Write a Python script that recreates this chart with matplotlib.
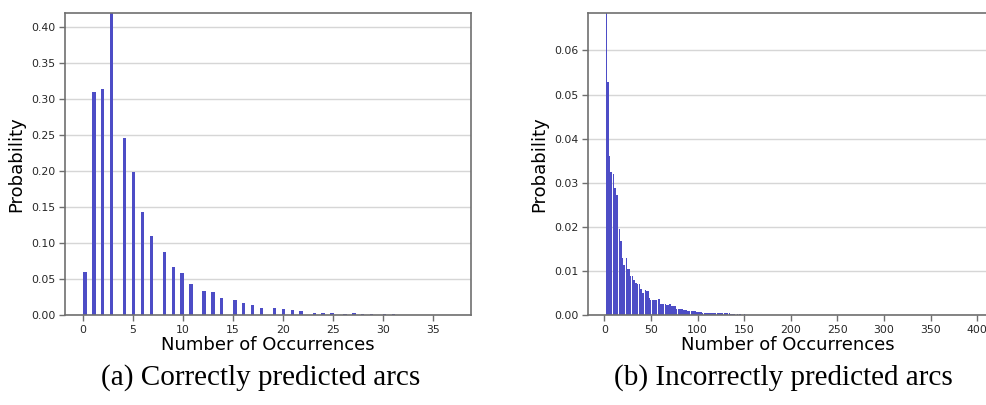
import numpy as np
import matplotlib
matplotlib.use("Agg")
import matplotlib.pyplot as plt
from matplotlib.ticker import MultipleLocator, FormatStrFormatter

# ---- data: correctly predicted arcs (occurrence count -> probability density) ----
correct_counts = list(range(0, 32))
correct_prob = [0.060, 0.309, 0.313, 0.419, 0.2455, 0.1988, 0.1433, 0.109,
                0.0874, 0.067, 0.0587, 0.043, 0.0337, 0.0319, 0.024, 0.0203,
                0.0171, 0.0143, 0.0092, 0.0102, 0.0088, 0.0074, 0.0055, 0.0032,
                0.0032, 0.0032, 0.0014, 0.0032, 0.0018, 0.0014, 0.0010, 0.0010]
correct_range = (0, 37)
correct_nbins = 84

# ---- data: incorrectly predicted arcs ----
wrong_counts = list(range(2, 161))
wrong_prob = [
    0.0685,                                   # 2
    0.0528, 0.0528, 0.0360, 0.0360, 0.0324,   # 3-7
    0.0324, 0.0319, 0.0319, 0.0288, 0.0288,   # 8-12
    0.0272, 0.0272, 0.0194, 0.0194, 0.0168,   # 13-17
    0.0168, 0.0129, 0.0129, 0.0113, 0.0113,   # 18-22
    0.0130, 0.0130, 0.0104, 0.0104, 0.0104,   # 23-27
    0.0089, 0.0089, 0.0089, 0.0080, 0.0080,   # 28-32
    0.0073, 0.0073, 0.0073, 0.0070, 0.0070,   # 33-37
    0.0058, 0.0058, 0.0058, 0.0051, 0.0051,   # 38-42
    0.0057, 0.0057, 0.0054, 0.0054, 0.0054,   # 43-47
    0.0038, 0.0038, 0.0033, 0.0033, 0.0033,   # 48-52
    0.0033, 0.0033, 0.0033, 0.0033, 0.0033,   # 53-57
    0.0036, 0.0036, 0.0026, 0.0026, 0.0024,   # 58-62
    0.0024, 0.0024, 0.0026, 0.0026, 0.0022,   # 63-67
    0.0022, 0.0022, 0.0026, 0.0026, 0.0020,   # 68-72
    0.0020, 0.0020, 0.0020, 0.0020, 0.0020,   # 73-77
    0.0014, 0.0014, 0.0013, 0.0013, 0.0013,   # 78-82
    0.0013, 0.0013, 0.0011, 0.0011, 0.0011,   # 83-87
    0.0011, 0.0009, 0.0009, 0.0009, 0.0009,   # 88-92
    0.0009, 0.0009, 0.0009, 0.0009, 0.0009,   # 93-97
    0.0009, 0.00076, 0.00076, 0.00076, 0.00076,  # 98-102
    0.00076, 0.00076, 0.00076, 0.0005, 0.0005,   # 103-107
    0.0005, 0.0005, 0.0005, 0.0005, 0.0005,   # 108-112
    0.00045, 0.00045, 0.00045, 0.00045, 0.00045,  # 113-117
    0.00045, 0.00045, 0.00045, 0.0004, 0.0004,    # 118-122
    0.0004, 0.0004, 0.0004, 0.0004, 0.0004,   # 123-127
    0.0004, 0.0004, 0.0004, 0.0004, 0.0004,   # 128-132
    0.0004, 0.0004, 0.0002, 0.0002, 0.0002,   # 133-137
    0.0002, 0.0002, 0.0002, 0.0, 0.0002,      # 138-142
    0.0002, 0.0, 0.0002, 0.0002, 0.0002,      # 143-147
    0.0, 0.0001, 0.0002, 0.0, 0.0001,         # 148-152
    0.0, 0.0, 0.0001, 0.0, 0.0,               # 153-157
    0.0, 0.0001, 0.0001,                      # 158-160
]
wrong_range = (2, 391)
wrong_nbins = 445

BAR = "#4d4dc6"
SPINE = "#6f6f6f"
GRID = "#d6d6d6"
TICKTXT = "#262626"

plt.rcParams["font.family"] = ["DejaVu Sans"]

fig = plt.figure(figsize=(9.87, 4.05), dpi=100)
W, H = 987.0, 405.0


def axes_px(x0, x1, ytop, ybot):
    return fig.add_axes([x0 / W, 1 - ybot / H, (x1 - x0) / W, (ybot - ytop) / H])


def style(ax, ymax, ystep, xstep, ytick_fmt):
    ax.set_ylim(0, ymax)
    ax.yaxis.set_major_locator(MultipleLocator(ystep))
    ax.yaxis.set_major_formatter(FormatStrFormatter(ytick_fmt))
    ax.xaxis.set_major_locator(MultipleLocator(xstep))
    ax.grid(axis="y", color=GRID, linewidth=1.0)
    ax.set_axisbelow(True)
    for s in ax.spines.values():
        s.set_color(SPINE)
        s.set_linewidth(1.2)
    ax.tick_params(colors=SPINE, labelcolor=TICKTXT, labelsize=7.8,
                   length=4, width=1.0, pad=3)
    ax.set_xlabel("Number of Occurrences", fontsize=13, labelpad=1)
    ax.set_ylabel("Probability", fontsize=13, labelpad=4)


# (a) correctly predicted arcs
ax1 = axes_px(65, 471, 13, 315)
edges1 = np.linspace(correct_range[0], correct_range[1], correct_nbins + 1)
ax1.hist(correct_counts, bins=edges1, weights=correct_prob,
         color=BAR, rwidth=0.75, linewidth=0)
style(ax1, max(correct_prob), 0.05, 5, "%.2f")

# (b) incorrectly predicted arcs
ax2 = axes_px(588, 987, 13, 315)
edges2 = np.linspace(wrong_range[0], wrong_range[1], wrong_nbins + 1)
ax2.hist(wrong_counts, bins=edges2, weights=wrong_prob,
         color=BAR, edgecolor="none", linewidth=0)
style(ax2, max(wrong_prob), 0.01, 50, "%.2f")

# sub-figure captions
cap_kw = dict(fontsize=21, family=["Liberation Serif", "DejaVu Serif"],
              ha="center", va="center", color="black")
fig.text(261 / W, 1 - 378 / H, "(a) Correctly predicted arcs", **cap_kw)
fig.text(783 / W, 1 - 378 / H, "(b) Incorrectly predicted arcs", **cap_kw)

fig.savefig("out.png", dpi=100)
